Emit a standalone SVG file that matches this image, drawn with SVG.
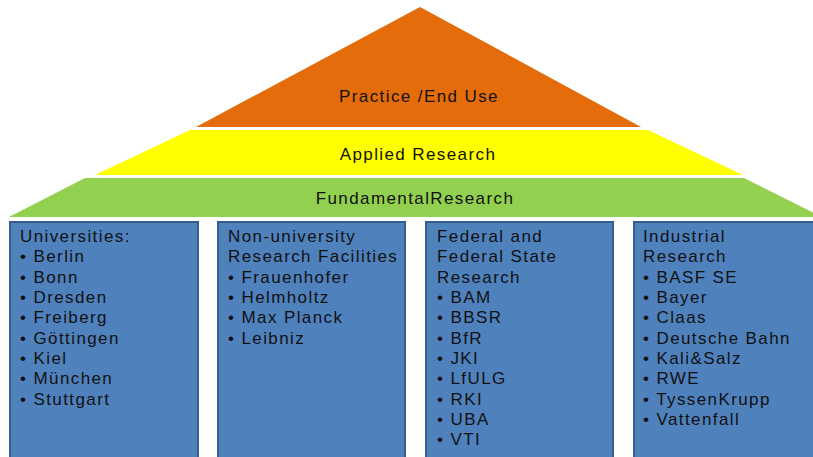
<svg xmlns="http://www.w3.org/2000/svg" width="813" height="457" viewBox="0 0 813 457">
<style>
text{font-family:"Liberation Sans",Arial,sans-serif;font-size:17px;fill:#111;letter-spacing:1.4px}
.t{text-anchor:middle}
.box{fill:#4f81bd;stroke:#385d8a;stroke-width:2}
</style>
<rect width="813" height="457" fill="#fff"/>
<g id="practice">
<polygon points="420,7 641,127 196,127" fill="#e46c0a"/>
<text class="t" x="419" y="102">Practice /End Use</text>
</g>
<g id="applied">
<polygon points="190,130 648,130 743,175 95,175" fill="#ffff00"/>
<text class="t" x="418" y="160">Applied Research</text>
</g>
<g id="fundamental">
<polygon points="85,178 744,178 822,217 9,217" fill="#92d050"/>
<text class="t" x="415" y="204">FundamentalResearch</text>
</g>
<g id="universities">
<rect class="box" x="10" y="222" width="188" height="250"/>
<text x="20" y="242">Universities:</text>
<text x="20" y="262">• Berlin</text>
<text x="20" y="282.5">• Bonn</text>
<text x="20" y="303">• Dresden</text>
<text x="20" y="323">• Freiberg</text>
<text x="20" y="343.5">• Göttingen</text>
<text x="20" y="364">• Kiel</text>
<text x="20" y="384">• München</text>
<text x="20" y="404.5">• Stuttgart</text>
</g>
<g id="nonuniversity">
<rect class="box" x="218" y="222" width="187" height="250"/>
<text x="228" y="242">Non-university</text>
<text x="228" y="262">Research Facilities</text>
<text x="228" y="282.5">• Frauenhofer</text>
<text x="228" y="303">• Helmholtz</text>
<text x="228" y="323">• Max Planck</text>
<text x="228" y="343.5">• Leibniz</text>
</g>
<g id="federal">
<rect class="box" x="426" y="222" width="187" height="250"/>
<text x="437" y="242">Federal and</text>
<text x="437" y="262">Federal State</text>
<text x="437" y="282.5">Research</text>
<text x="437" y="303">• BAM</text>
<text x="437" y="323">• BBSR</text>
<text x="437" y="343.5">• BfR</text>
<text x="437" y="364">• JKI</text>
<text x="437" y="384">• LfULG</text>
<text x="437" y="404.5">• RKI</text>
<text x="437" y="425">• UBA</text>
<text x="437" y="445">• VTI</text>
</g>
<g id="industrial">
<rect class="box" x="634" y="222" width="190" height="250"/>
<text x="643" y="242">Industrial</text>
<text x="643" y="262">Research</text>
<text x="643" y="282.5">• BASF SE</text>
<text x="643" y="303">• Bayer</text>
<text x="643" y="323">• Claas</text>
<text x="643" y="343.5">• Deutsche Bahn</text>
<text x="643" y="364">• Kali&amp;Salz</text>
<text x="643" y="384">• RWE</text>
<text x="643" y="404.5">• TyssenKrupp</text>
<text x="643" y="425">• Vattenfall</text>
</g>
<g id="connectors"></g>
</svg>
